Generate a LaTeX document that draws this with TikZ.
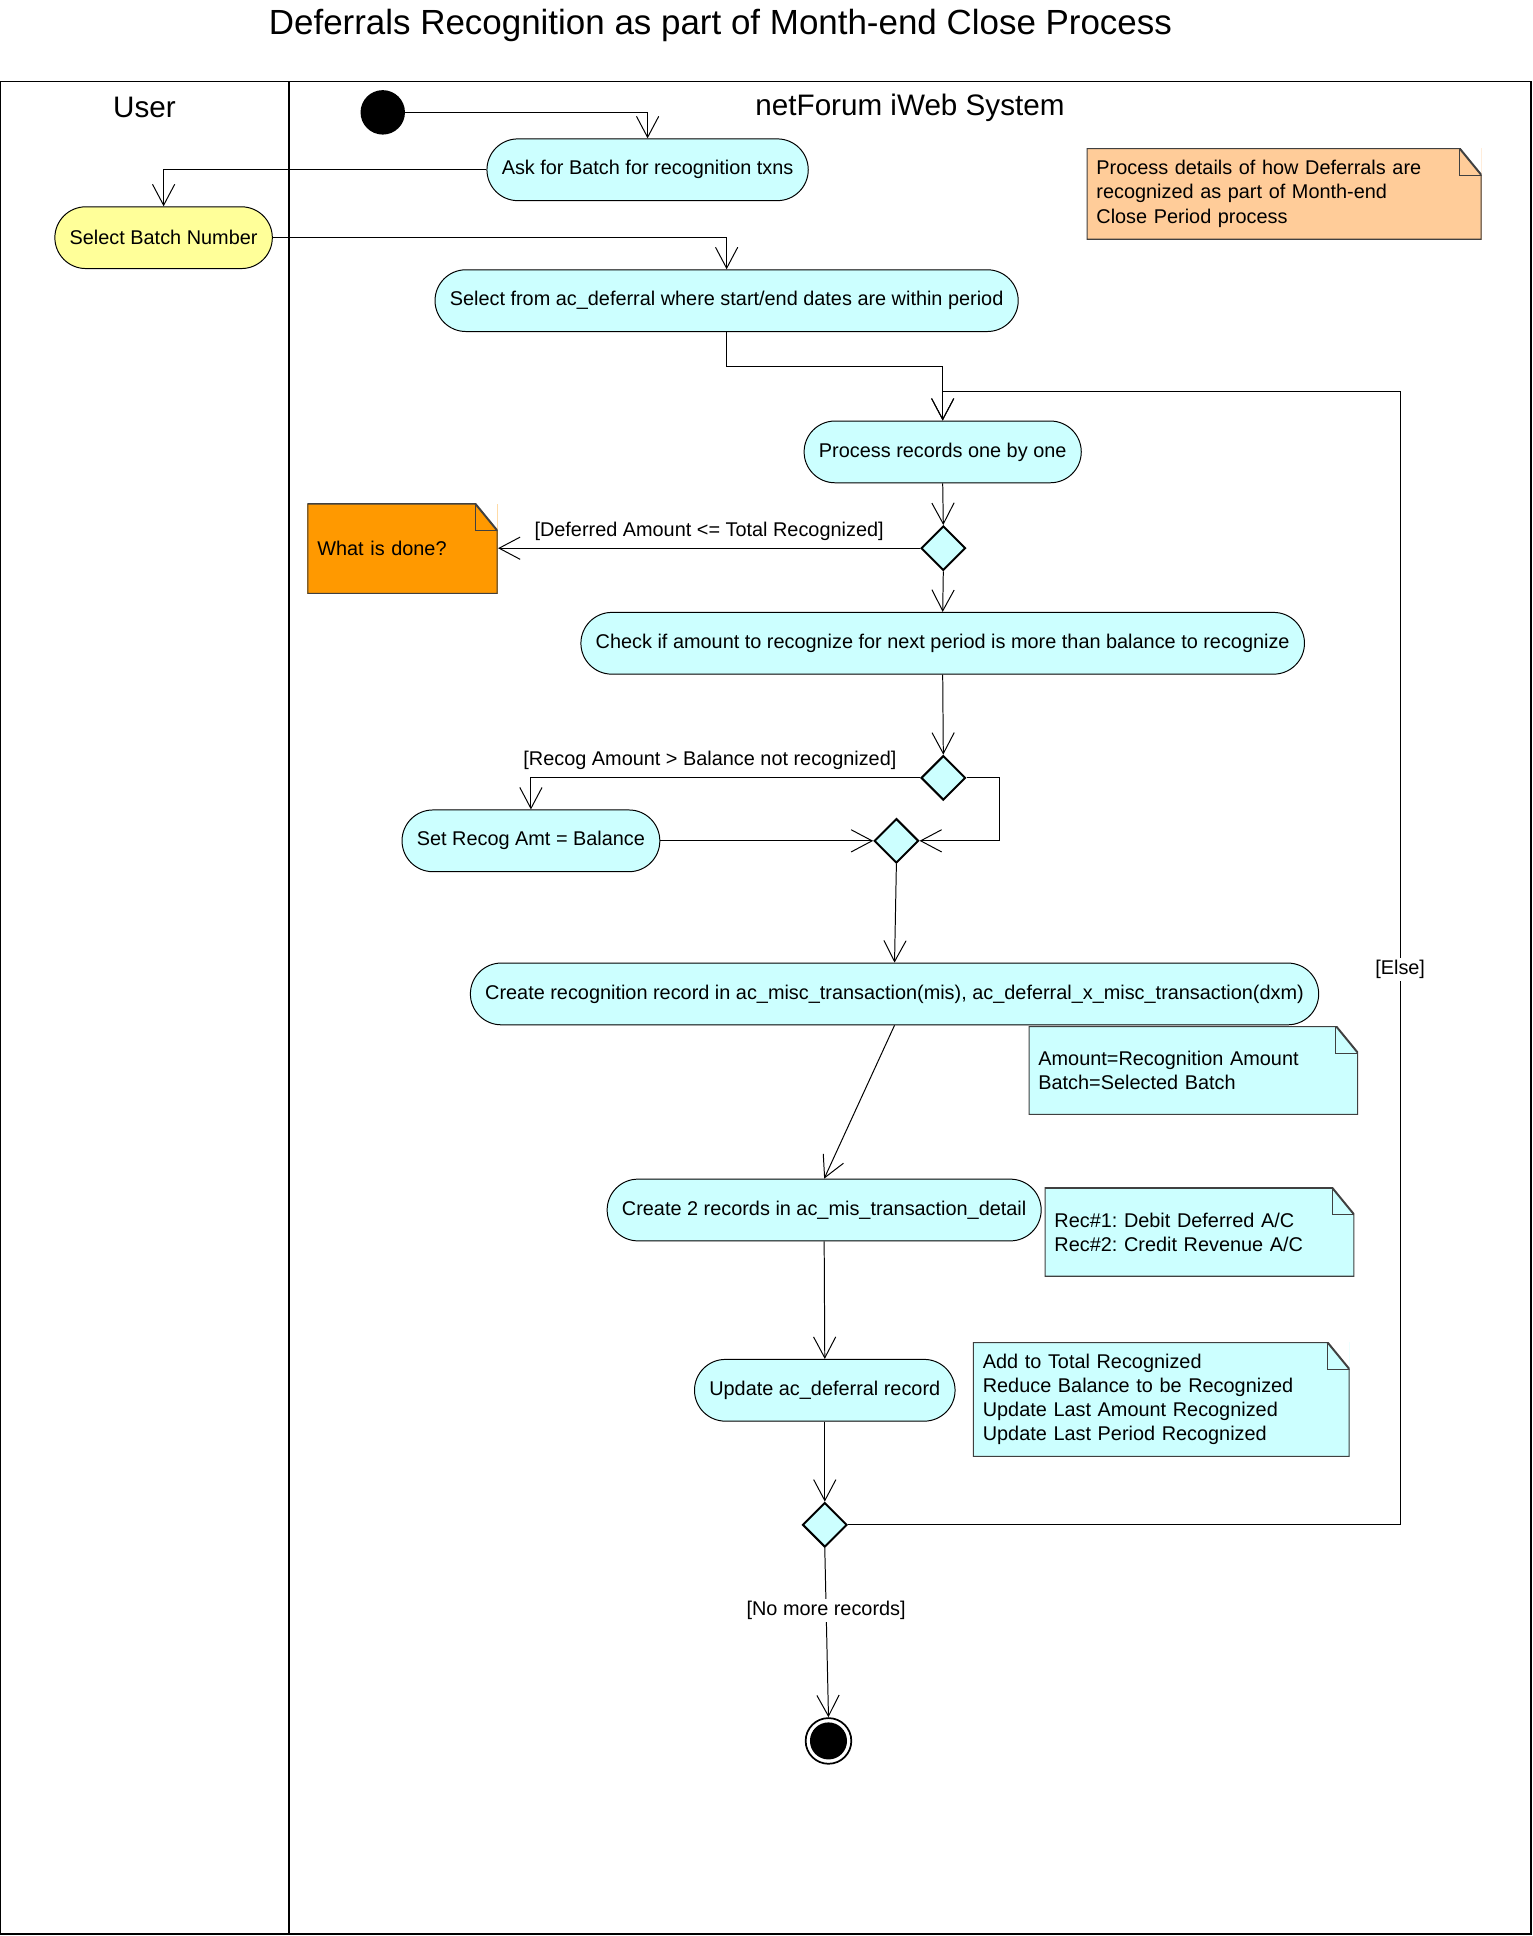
\documentclass[tikz,border=0pt]{standalone}
\usepackage{fontspec}
\setmainfont{Liberation Sans}
\usetikzlibrary{shapes.geometric, arrows.meta}

\definecolor{actcyan}{HTML}{CCFFFF}
\definecolor{useryellow}{HTML}{FFFF99}
\definecolor{noteorange}{HTML}{FF9900}
\definecolor{notepeach}{HTML}{FFCC99}

\tikzset{
    activity/.style={draw, fill=actcyan, rounded corners=25pt, minimum height=50pt, inner xsep=12pt},
    decision/.style={diamond, draw, line width=1.6pt, fill=actcyan, minimum width=36pt, minimum height=36pt, inner sep=0pt},
    initial/.style={circle, fill=black, minimum size=36pt, inner sep=0pt},
    final/.style={circle, draw, line width=1.4pt, fill=white, minimum size=37pt, inner sep=0pt,
        path picture={\fill[black] (path picture bounding box.center) circle (15pt);}},
    note/.style={fill=#1, inner xsep=8pt, inner ysep=2pt, align=left,
        path picture={
            \fill[white] ([xshift=-18pt]path picture bounding box.north east) -- (path picture bounding box.north east)
                -- ([yshift=-22pt]path picture bounding box.north east) -- cycle;
            \draw[black!75, line width=1.6pt] (path picture bounding box.north west)
                -- ([xshift=-18pt]path picture bounding box.north east)
                -- ([yshift=-22pt]path picture bounding box.north east)
                -- (path picture bounding box.south east) -- (path picture bounding box.south west) -- cycle;
            \draw[black!75] ([xshift=-18pt]path picture bounding box.north east) |- ([yshift=-22pt]path picture bounding box.north east);
        }},
    flow/.style={-{Straight Barb[length=17pt, width=18pt]}},
    guard/.style={inner sep=2pt}
}

\begin{document}
\frenchspacing
\begin{tikzpicture}[x=1pt, y=-1pt, line width=0.8pt, font=\fontsize{16.1}{19.5}\selectfont]
    \useasboundingbox (0,0) rectangle (1241,1568);

    % title and swimlanes
    \node (title) at (583.5,21) {\fontsize{28.3}{32}\selectfont Deferrals Recognition as part of Month-end Close Process};
    \draw[line width=1.6pt] (0,66) rectangle (1240,1566);
    \draw[line width=1.6pt] (234,66) -- (234,1566);
    \node (laneuser) at (117,87) {\fontsize{24}{28}\selectfont User};
    \node (lanesystem) at (737,87) {\fontsize{24}{28}\selectfont netForum iWeb System};

    % activities
    \node[initial] (start) at (310,91) {};
    \node[activity] (ask) at (524.5,137.5) {Ask for Batch for recognition txns};
    \node[activity, fill=useryellow] (batch) at (132.5,192.5) {Select Batch Number};
    \node[activity] (select) at (588.5,243.5) {Select from ac\_deferral where start/end dates are within period};
    \node[activity] (process) at (763.5,366) {Process records one by one};
    \node[decision] (done) at (764,444) {};
    \node[activity] (check) at (763.5,521) {Check if amount to recognize for next period is more than balance to recognize};
    \node[decision] (compare) at (764,630) {};
    \node[activity] (setamt) at (430,681) {Set Recog Amt = Balance};
    \node[decision] (merge) at (726,681) {};
    \node[activity] (create) at (724.5,805) {Create recognition record in ac\_misc\_transaction(mis), ac\_deferral\_x\_misc\_transaction(dxm)};
    \node[activity] (details) at (667.5,980) {Create 2 records in ac\_mis\_transaction\_detail};
    \node[activity] (update) at (668,1126) {Update ac\_deferral record};
    \node[decision] (more) at (668,1235) {};
    \node[final] (end) at (671,1410) {};

    % notes
    \node[note=notepeach, text width=304pt, minimum height=74pt] (purpose) at (1040,157)
        {Process details of how Deferrals are\\recognized as part of Month-end\\Close Period process};
    \node[note=noteorange, text width=138pt, minimum height=73pt] (whatnote) at (326,444.5) {What is done?};
    \node[note=actcyan, text width=251pt, minimum height=72pt] (amountnote) at (966.5,867)
        {Amount=Recognition Amount\\Batch=Selected Batch};
    \node[note=actcyan, text width=235pt, minimum height=72pt] (recnote) at (971.5,998)
        {Rec\#1: Debit Deferred A/C\\Rec\#2: Credit Revenue A/C};
    \node[note=actcyan, text width=289pt, minimum height=93pt] (updatenote) at (940.5,1133.5)
        {Add to Total Recognized\\Reduce Balance to be Recognized\\Update Last Amount Recognized\\Update Last Period Recognized};

    % flows
    \draw[flow] (start.east) -| (ask.north);
    \draw[flow] (ask.west) -| (batch.north);
    \draw[flow] (batch.east) -| (select.north);
    \draw[flow] (select.south) -- ++(0,28) -| (process.north);
    \draw[flow] (process.south) -- (done.north);
    \draw[flow] (done.west) -- node[guard, above=4pt] {[Deferred Amount <= Total Recognized]} (done.west -| whatnote.east);
    \draw[flow] (done.south) -- (check.north);
    \draw[flow] (check.south) -- (compare.north);
    \draw[flow] (compare.west) -| node[guard, pos=0.27, above=4pt] {[Recog Amount > Balance not recognized]} (setamt.north);
    \draw[flow] (compare.east) -- ++(27,0) |- (merge.east);
    \draw[flow] (setamt.east) -- (merge.west);
    \draw[flow] (merge.south) -- (create.north);
    \draw[flow] (create.south) -- (details.north);
    \draw[flow] (details.south) -- (update.north);
    \draw[flow] (update.south) -- (more.north);
    \draw[flow] (more.south) -- node[guard, fill=white, pos=0.37] {[No more records]} (end.north);

    \coordinate (loopback) at (1134,317);
    \draw[flow] (more.east) -| node[guard, fill=white, pos=0.745] {[Else]} (loopback) -| (process.north);
\end{tikzpicture}
\end{document}
